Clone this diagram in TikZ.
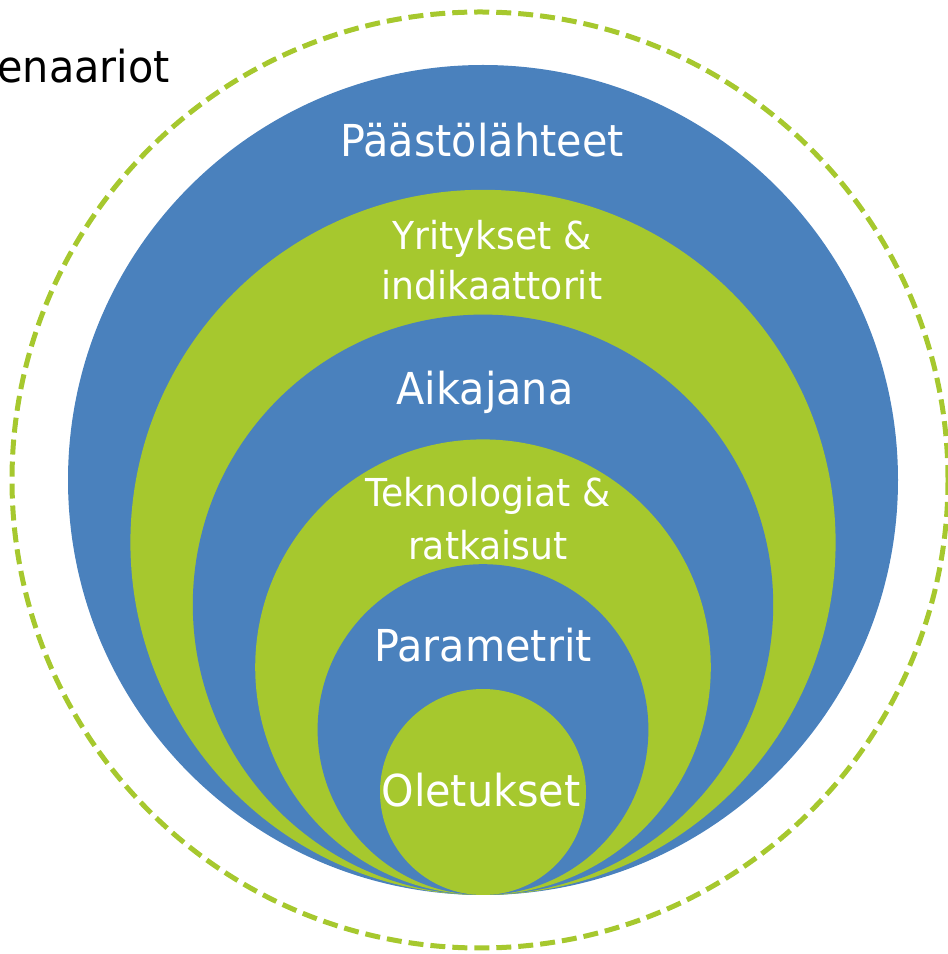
\documentclass[tikz,border=0pt]{standalone}
\usepackage{fontspec}
\setmainfont{DejaVu Sans}[FakeStretch=0.94]
\definecolor{sininen}{HTML}{4A81BD}
\definecolor{vihrea}{HTML}{A6C82E}
\tikzset{
	otsikko/.style={anchor=base, text=white, inner sep=0pt, font=\fontsize{44}{50}\selectfont},
	pieni/.style={otsikko, font=\fontsize{38.5}{50}\selectfont}
}
\begin{document}
\begin{tikzpicture}[x=1pt,y=1pt]
	\useasboundingbox (0,0) rectangle (948,954);
	% Ulompi kehä
		\draw[vihrea, line width=5pt, dash pattern=on 15pt off 7pt] (480,474) circle[radius=468];
		\node[anchor=base east, inner sep=0pt, font=\fontsize{44}{50}\selectfont] (skenaariot) at (170,871) {Skenaariot};
	% Ympyrät
		\foreach \r/\c in {415/sininen, 352.6/vihrea, 290.2/sininen, 227.8/vihrea, 165.4/sininen, 103/vihrea}
			\fill[\c] (483,{59+\r}) circle[radius=\r];
	% Tekstit
		\node[otsikko] (paastot) at (482,797) {Päästölähteet};
		\node[pieni] (yritykset) at (492,704) {Yritykset \&};
		\node[pieni] (indikaattorit) at (492,654) {indikaattorit};
		\node[otsikko] (aikajana) at (485,549) {Aikajana};
		\node[pieni] (teknologiat) at (488,447) {Teknologiat \&};
		\node[pieni] (ratkaisut) at (488,394) {ratkaisut};
		\node[otsikko] (parametrit) at (483,292) {Parametrit};
		\node[otsikko] (oletukset) at (481,147) {Oletukset};
\end{tikzpicture}
\end{document}
